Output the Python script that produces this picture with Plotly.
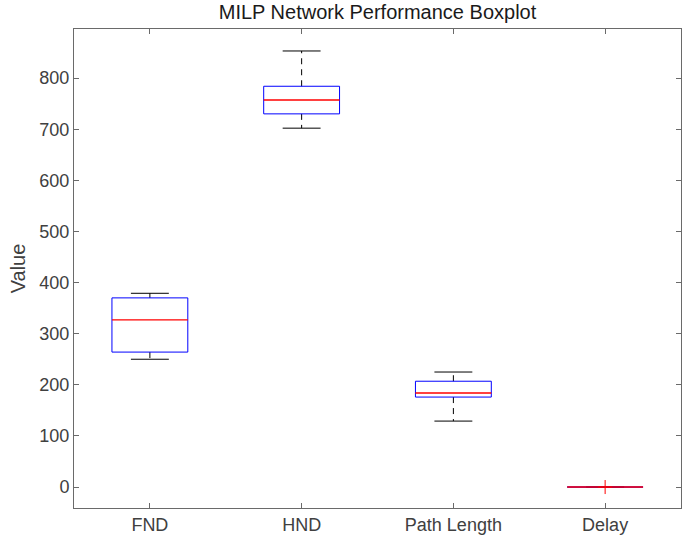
import plotly.graph_objects as go

categories = ["FND", "HND", "Path Length", "Delay"]
lower_whisker = [250, 702, 129, 0]
q1 = [264, 730, 176, 0]
median = [327, 757, 184, 0]
q3 = [370, 784, 207, 0]
upper_whisker = [379, 853, 225, 0]
outlier_x = [4]
outlier_y = [0]

BOX_HALF = 0.25
CAP_HALF = 0.125
FONT = "Liberation Sans, Arial, Helvetica, sans-serif"

fig = go.Figure()
for i, cat in enumerate(categories):
    x = i + 1
    # whiskers (dashed black)
    fig.add_trace(go.Scatter(x=[x, x, None, x, x], y=[q3[i], upper_whisker[i], None, q1[i], lower_whisker[i]],
                             mode="lines", line=dict(color="black", width=1, dash="6px,5px"),
                             hoverinfo="skip", showlegend=False))
    # caps
    fig.add_trace(go.Scatter(x=[x - CAP_HALF, x + CAP_HALF, None, x - CAP_HALF, x + CAP_HALF],
                             y=[upper_whisker[i], upper_whisker[i], None, lower_whisker[i], lower_whisker[i]],
                             mode="lines", line=dict(color="black", width=1),
                             hoverinfo="skip", showlegend=False))
    # box
    fig.add_trace(go.Scatter(x=[x - BOX_HALF, x + BOX_HALF, x + BOX_HALF, x - BOX_HALF, x - BOX_HALF],
                             y=[q1[i], q1[i], q3[i], q3[i], q1[i]],
                             mode="lines", line=dict(color="#0000ff", width=1),
                             hoverinfo="skip", showlegend=False))

# medians drawn on top of all boxes
for i, cat in enumerate(categories):
    x = i + 1
    fig.add_trace(go.Scatter(x=[x - BOX_HALF, x + BOX_HALF], y=[median[i], median[i]],
                             mode="lines", line=dict(color="#ff0000", width=1.4),
                             hoverinfo="skip", showlegend=False))

fig.add_trace(go.Scatter(x=outlier_x, y=outlier_y, mode="markers",
                         marker=dict(symbol="cross-thin", size=10, line=dict(color="#ff0000", width=1)),
                         hoverinfo="skip", showlegend=False))

axis_color = "#6a6a6a"
fig.update_layout(
    width=688, height=547,
    margin=dict(l=74, r=7, t=29, b=39),
    plot_bgcolor="white", paper_bgcolor="white",
    title=dict(text="MILP Network Performance Boxplot", x=0.5, xanchor="center",
               xref="paper", y=0.99, yanchor="top",
               font=dict(family=FONT, size=20, color="#1a1a1a")),
    font=dict(family=FONT, size=18, color="#404040"),
)
fig.update_xaxes(range=[0.5, 4.5], tickvals=[1, 2, 3, 4], ticktext=categories,
                 showgrid=False, zeroline=False, showline=True, linecolor=axis_color, linewidth=1,
                 mirror="allticks", ticks="inside", ticklen=5, tickcolor=axis_color,
                 tickfont=dict(family=FONT, size=18, color="#404040"))
fig.update_yaxes(range=[-41, 896], tickvals=[0, 100, 200, 300, 400, 500, 600, 700, 800],
                 showgrid=False, zeroline=False, showline=True, linecolor=axis_color, linewidth=1,
                 mirror="allticks", ticks="inside", ticklen=5, tickcolor=axis_color,
                 tickfont=dict(family=FONT, size=18, color="#404040"),
                 title=dict(text="Value", font=dict(family=FONT, size=20, color="#404040"), standoff=8))

fig.write_html("out.html")
